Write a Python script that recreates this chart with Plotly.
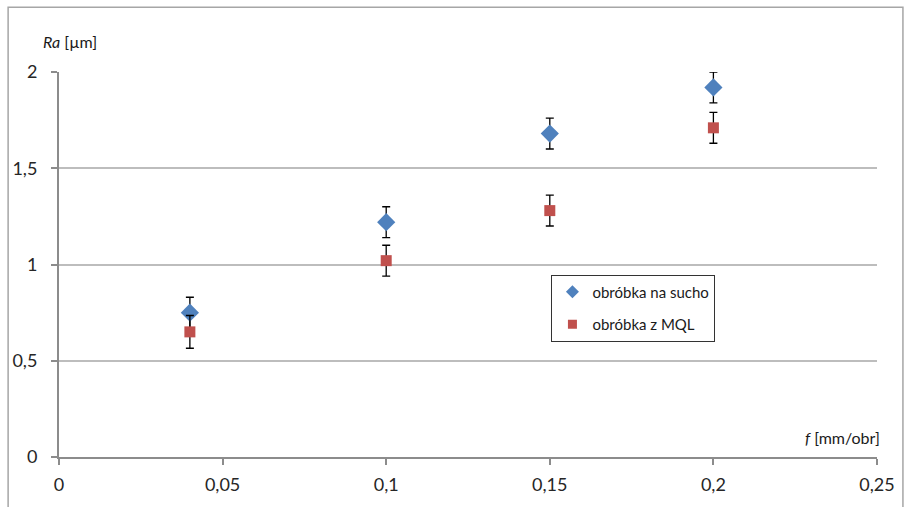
import plotly.graph_objects as go

feed = [0.04, 0.1, 0.15, 0.2]
ra_dry = [0.75, 1.22, 1.68, 1.92]
ra_mql = [0.65, 1.02, 1.28, 1.71]
err_dry = [0.08, 0.08, 0.08, 0.08]
err_mql = [0.085, 0.08, 0.08, 0.08]
name_dry = "obróbka na sucho"
name_mql = "obróbka z MQL"
x_ticks = [0, 0.05, 0.1, 0.15, 0.2, 0.25]
y_ticks = [0, 0.5, 1, 1.5, 2]

FONT = "Lato, Carlito, 'Liberation Sans', sans-serif"
BLUE = "#4F81BD"
RED = "#C0504D"

fig = go.Figure()
fig.add_trace(go.Scatter(
    x=feed, y=ra_dry, mode="markers", name=name_dry, showlegend=False,
    marker=dict(symbol="diamond", size=14, color=BLUE),
    error_y=dict(type="data", array=err_dry, color="black", thickness=1.3, width=4),
))
fig.add_trace(go.Scatter(
    x=feed, y=ra_mql, mode="markers", name=name_mql, showlegend=False,
    marker=dict(symbol="square", size=11, color=RED),
    error_y=dict(type="data", array=err_mql, color="black", thickness=1.3, width=4),
))
# legend entries with smaller symbols, as in the reference
fig.add_trace(go.Scatter(
    x=[None], y=[None], mode="markers", name=name_dry, legendgroup="a",
    marker=dict(symbol="diamond", size=10, color=BLUE),
))
fig.add_trace(go.Scatter(
    x=[None], y=[None], mode="markers", name=name_mql, legendgroup="b",
    marker=dict(symbol="square", size=9, color=RED),
))

fig.update_layout(
    width=907, height=507,
    margin=dict(l=59, r=28, t=72, b=49),
    paper_bgcolor="white", plot_bgcolor="white",
    separators=", ",
    font=dict(family=FONT, size=18, color="#262626"),
    showlegend=True,
    legend=dict(
        x=0.602, y=0.474, xanchor="left", yanchor="top",
        bgcolor="white", bordercolor="#333333", borderwidth=1,
        font=dict(size=15, color="#1a1a1a"),
        itemsizing="trace", tracegroupgap=10, itemwidth=30,
    ),
    xaxis=dict(
        range=[0, 0.25], tickvals=x_ticks, tickformat=".2~f",
        showgrid=False, zeroline=False,
        showline=True, linecolor="#8C8C8C", linewidth=2,
        ticks="outside", ticklen=6, tickcolor="#8C8C8C", tickwidth=2,
        ticklabelstandoff=4,
    ),
    yaxis=dict(
        range=[0, 2], tickvals=y_ticks, tickformat=".1~f",
        showgrid=True, gridcolor="#BDBDBD", gridwidth=1.5,
        zeroline=False,
        showline=True, linecolor="#8C8C8C", linewidth=2,
        ticks="outside", ticklen=6, tickcolor="#8C8C8C", tickwidth=2,
        ticklabelstandoff=10,
    ),
    annotations=[
        dict(text="<i>Ra</i> [µm]", xref="paper", yref="paper",
             x=-0.022, y=1.05, xanchor="left", yanchor="bottom",
             showarrow=False, font=dict(size=16, color="#1a1a1a")),
        dict(text="<i>f</i> [mm/obr]", xref="paper", yref="paper",
             x=1.006, y=0.02, xanchor="right", yanchor="bottom",
             showarrow=False, font=dict(size=16, color="#1a1a1a")),
    ],
    shapes=[
        dict(type="rect", xref="paper", yref="paper",
             x0=-0.0622, x1=1.0317, y0=-0.2, y1=1.168,
             line=dict(color="#A6A6A6", width=1.5), fillcolor="rgba(0,0,0,0)",
             layer="below"),
    ],
)

fig.write_html("out.html")
